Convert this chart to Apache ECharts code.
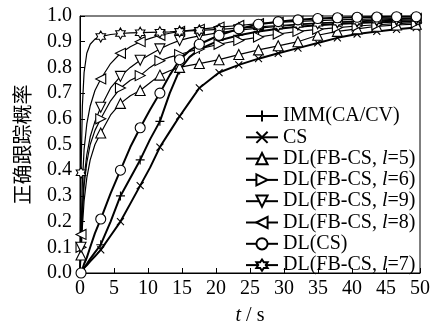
<!DOCTYPE html>
<html><head><meta charset="utf-8">
<script src="https://cdn.jsdelivr.net/npm/echarts@6/dist/echarts.min.js"></script>
<style>html,body{margin:0;padding:0;background:#fff}#c{width:433px;height:331px}</style>
</head><body><div id="c"></div>
<script>
const T = [0, 0.15, 0.35, 0.6, 1.0, 1.5, 2.2, 3.05, 4.5, 5.95, 7.4, 8.85, 10.3, 11.75, 13.2, 14.65, 16.1, 17.55, 20.45, 23.35, 26.25, 29.15, 32.05, 34.95, 37.85, 40.75, 43.65, 46.55, 49.45, 50];
const MARK_T = [0.15, 3.05, 5.95, 8.85, 11.75, 14.65, 17.55, 20.45, 23.35, 26.25, 29.15, 32.05, 34.95, 37.85, 40.75, 43.65, 46.55, 49.45];
const X_TICKS = [0, 5, 10, 15, 20, 25, 30, 35, 40, 45, 50];
const Y_TICKS = [0.0, 0.1, 0.2, 0.3, 0.4, 0.5, 0.6, 0.7, 0.8, 0.9, 1.0];

const IMM  = [0, 0.0, 0.01, 0.02, 0.035, 0.055, 0.08, 0.11, 0.20, 0.30, 0.37, 0.44, 0.52, 0.59, 0.70, 0.79, 0.84, 0.87, 0.905, 0.925, 0.94, 0.95, 0.958, 0.964, 0.969, 0.973, 0.976, 0.978, 0.98, 0.98];
const CS   = [0, 0.0, 0.01, 0.02, 0.03, 0.045, 0.065, 0.09, 0.145, 0.20, 0.27, 0.34, 0.41, 0.49, 0.55, 0.61, 0.665, 0.72, 0.78, 0.81, 0.834, 0.855, 0.875, 0.895, 0.915, 0.93, 0.94, 0.948, 0.955, 0.955];
const L5   = [0, 0.07, 0.18, 0.28, 0.37, 0.44, 0.50, 0.545, 0.615, 0.66, 0.69, 0.71, 0.74, 0.77, 0.787, 0.80, 0.808, 0.815, 0.83, 0.85, 0.868, 0.884, 0.90, 0.925, 0.94, 0.95, 0.96, 0.965, 0.968, 0.968];
const L6   = [0, 0.10, 0.23, 0.34, 0.43, 0.50, 0.555, 0.60, 0.67, 0.72, 0.75, 0.768, 0.80, 0.826, 0.84, 0.85, 0.862, 0.872, 0.89, 0.905, 0.918, 0.93, 0.94, 0.948, 0.955, 0.961, 0.966, 0.97, 0.974, 0.975];
const L9   = [0, 0.10, 0.25, 0.37, 0.46, 0.53, 0.59, 0.645, 0.72, 0.765, 0.80, 0.828, 0.85, 0.872, 0.89, 0.905, 0.915, 0.923, 0.935, 0.945, 0.953, 0.96, 0.966, 0.971, 0.975, 0.978, 0.981, 0.983, 0.985, 0.985];
const L8   = [0, 0.15, 0.35, 0.48, 0.58, 0.65, 0.71, 0.755, 0.815, 0.855, 0.88, 0.90, 0.913, 0.925, 0.933, 0.94, 0.944, 0.948, 0.957, 0.963, 0.97, 0.975, 0.979, 0.982, 0.985, 0.987, 0.989, 0.99, 0.991, 0.991];
const DLCS = [0, 0.0, 0.015, 0.035, 0.06, 0.10, 0.155, 0.21, 0.31, 0.40, 0.49, 0.565, 0.635, 0.70, 0.77, 0.83, 0.865, 0.89, 0.925, 0.95, 0.968, 0.978, 0.985, 0.99, 0.993, 0.995, 0.996, 0.997, 0.997, 0.997];
const L7   = [0, 0.39, 0.65, 0.78, 0.855, 0.89, 0.91, 0.92, 0.928, 0.932, 0.934, 0.935, 0.936, 0.937, 0.938, 0.94, 0.942, 0.944, 0.948, 0.953, 0.958, 0.963, 0.968, 0.972, 0.976, 0.98, 0.984, 0.987, 0.99, 0.99];

const NAMES = ['IMM(CA/CV)', 'CS', 'DL(FB-CS, l=5)', 'DL(FB-CS, l=6)', 'DL(FB-CS, l=9)', 'DL(FB-CS, l=8)', 'DL(CS)', 'DL(FB-CS, l=7)'];

const HEX = 'path://M5,0L6.44,2.5L9.33,2.5L7.89,5L9.33,7.5L6.44,7.5L5,10L3.56,7.5L0.67,7.5L2.11,5L0.67,2.5L3.56,2.5Z';
const PLUS = 'path://M0,5L10,5M5,0L5,10';
const CROSS = 'path://M0,0L10,10M10,0L0,10';

const STYLE = [
  {vals: IMM, symbol: PLUS, size: 9, rot: 0, lw: 2},
  {vals: CS, symbol: CROSS, size: 7, rot: 0, lw: 2},
  {vals: L5, symbol: 'triangle', size: 10, rot: 0, lw: 1.2},
  {vals: L6, symbol: 'triangle', size: 10, rot: -90, lw: 1.2},
  {vals: L9, symbol: 'triangle', size: 10, rot: 180, lw: 1.2},
  {vals: L8, symbol: 'triangle', size: 10, rot: 90, lw: 1.2},
  {vals: DLCS, symbol: 'circle', size: 10, rot: 0, lw: 2},
  {vals: L7, symbol: HEX, size: 11, rot: 0, lw: 1.2}
];

const FONT = '"Liberation Serif", "Times New Roman", serif';

const series = STYLE.map((s, k) => ({
  name: NAMES[k],
  type: 'line',
  showAllSymbol: true,
  symbol: s.symbol,
  symbolSize: s.size,
  symbolRotate: s.rot,
  symbolKeepAspect: true,
  lineStyle: {color: '#000', width: s.lw},
  itemStyle: {color: '#fff', borderColor: '#000', borderWidth: 1.1},
  emphasis: {disabled: true},
  z: k === 6 ? 5 : 2,
  data: T.map((t, i) => MARK_T.indexOf(t) >= 0 ? [t, s.vals[i]] : {value: [t, s.vals[i]], symbol: 'none'})
}));

const chart = echarts.init(document.getElementById('c'));
chart.setOption({
  animation: false,
  backgroundColor: '#fff',
  grid: {left: 80, right: 11, top: 16, bottom: 50, show: true, borderColor: '#000', borderWidth: 1},
  xAxis: {
    type: 'value', min: 0, max: 50, interval: 5,
    name: '{i|t} / s', nameLocation: 'middle', nameGap: 33,
    nameTextStyle: {fontFamily: FONT, fontSize: 20, color: '#000', rich: {i: {fontFamily: FONT, fontSize: 20, fontStyle: 'italic', color: '#000'}}},
    axisLine: {lineStyle: {color: '#000', width: 1}},
    axisTick: {inside: true, length: 5, lineStyle: {color: '#000'}},
    axisLabel: {fontFamily: FONT, fontSize: 20, color: '#000', margin: 6, formatter: v => X_TICKS.indexOf(v) >= 0 ? String(v) : ''},
    splitLine: {show: false}
  },
  yAxis: {
    type: 'value', min: 0, max: 1, interval: 0.1,
    name: '正确跟踪概率', nameLocation: 'middle', nameGap: 48, nameRotate: 90,
    nameTextStyle: {fontFamily: '"Noto Sans CJK SC"', fontSize: 20, color: '#000'},
    axisLine: {lineStyle: {color: '#000', width: 1}},
    axisTick: {inside: true, length: 5, lineStyle: {color: '#000'}},
    axisLabel: {fontFamily: FONT, fontSize: 20, color: '#000', margin: 8, padding: [6, 0, 0, 0], formatter: v => Y_TICKS.some(y => Math.abs(y - v) < 1e-6) ? v.toFixed(1) : ''},
    splitLine: {show: false}
  },
  legend: {
    orient: 'vertical', left: 240, top: 101,
    itemWidth: 32, itemHeight: 14, itemGap: 1.3,
    data: NAMES,
    textStyle: {fontFamily: FONT, fontSize: 20, lineHeight: 20, color: '#000', rich: {i: {fontFamily: FONT, fontSize: 20, lineHeight: 20, fontStyle: 'italic', color: '#000'}}},
    formatter: n => n.replace('l=', '{i|l}=')
  },
  series: series
});
</script>
</body></html>
